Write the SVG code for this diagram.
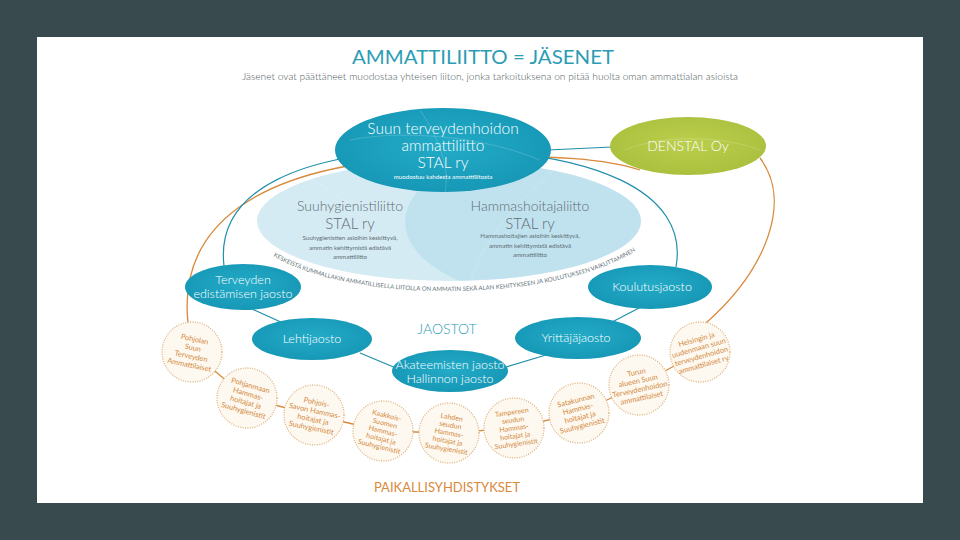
<svg xmlns="http://www.w3.org/2000/svg" width="960" height="540" viewBox="0 0 960 540">
<defs>
<radialGradient id="teal" cx="50%" cy="45%" r="60%">
<stop offset="0" stop-color="#23abc7"/>
<stop offset="1" stop-color="#1596b4"/>
</radialGradient>
<radialGradient id="green" cx="50%" cy="45%" r="60%">
<stop offset="0" stop-color="#bccf4e"/>
<stop offset="1" stop-color="#a9bf3c"/>
</radialGradient>
<clipPath id="bigClip"><ellipse cx="449" cy="221" rx="192" ry="60"/></clipPath>
<path id="arcText" d="M 257,243 C 320,308 580,308 652,238"/>
<style>
.f{font-family:Lato,"Open Sans","Liberation Sans",sans-serif;font-weight:300}
.r{font-weight:400}
.wt{fill:#ffffff;text-anchor:middle}
.gt{fill:#5e6d74;text-anchor:middle}
.ct{fill:#d4883c;font-size:7.4px;text-anchor:middle;font-weight:400}
.ct5{fill:#d4883c;font-size:7px;text-anchor:middle;font-weight:400}
.circ{fill:#fdf9f0;stroke:#dfb27e;stroke-width:1.3;stroke-dasharray:1 1.4}
.tl{fill:none;stroke:#1f8fab;stroke-width:1.2}
.ol{fill:none;stroke:#d9893a;stroke-width:1.3}
.dec{fill:none;stroke:#ffffff;stroke-opacity:0.22;stroke-width:0.8}
</style>
</defs>
<rect width="960" height="540" fill="#394a4f"/>
<rect x="37" y="37" width="886" height="466" fill="#ffffff"/>

<text class="f r" x="483" y="64" font-size="20" fill="#2c9cb5" text-anchor="middle" textLength="262" lengthAdjust="spacingAndGlyphs">AMMATTILIITTO = JÄSENET</text>
<text class="f" x="490" y="80" font-size="9.5" fill="#4f5a5e" text-anchor="middle" textLength="496" lengthAdjust="spacingAndGlyphs">Jäsenet ovat päättäneet muodostaa yhteisen liiton, jonka tarkoituksena on pitää huolta oman ammattialan asioista</text>

<g id="connectors">
<path class="ol" d="M 188,323 C 178,230 250,162 443,157 C 560,154 610,160 640,170"/>
<path class="ol" d="M 760,158 C 792,200 768,268 706,323"/>
<path class="tl" d="M 224,266 C 215,190 300,151 443,150 C 590,150 690,190 676,267"/>
<path class="tl" d="M 548,150 L 612,147"/>
<path class="tl" d="M 252,309 L 283,323"/>
<path class="tl" d="M 360,353 L 396,368"/>
<path class="tl" d="M 506,367 L 546,355"/>
<path class="tl" d="M 614,321 L 641,307"/>
<path class="ol" d="M 192,352 L 247,398 L 314,415 L 383,431 L 449,433 L 514,428 L 579,413 L 639,385 L 700,352"/>
</g>

<g id="liitot">
<ellipse cx="449" cy="221" rx="192" ry="60" fill="#d5ebf4"/>
<ellipse cx="562" cy="222" rx="157" ry="78" fill="#c0e2ef" clip-path="url(#bigClip)"/>
<path class="dec" d="M 300,175 C 360,200 380,240 420,280" clip-path="url(#bigClip)"/>
<path class="dec" d="M 560,165 C 520,200 480,240 470,285" clip-path="url(#bigClip)"/>
<text class="f gt" x="350" y="211" font-size="14">Suuhygienistiliitto</text>
<text class="f gt" x="350" y="229" font-size="15">STAL ry</text>
<text class="f gt r" x="350" y="240" font-size="6.2">Suuhygienistien asioihin keskittyvä,</text>
<text class="f gt r" x="350" y="249.5" font-size="6.2">ammatin kehittymistä edistävä</text>
<text class="f gt r" x="350" y="259" font-size="6.2">ammattiliitto</text>
<text class="f gt" x="530" y="211" font-size="14">Hammashoitajaliitto</text>
<text class="f gt" x="530" y="229" font-size="15">STAL ry</text>
<text class="f gt r" x="530" y="238" font-size="6.2">Hammashoitajien asioihin keskittyvä,</text>
<text class="f gt r" x="530" y="247.5" font-size="6.2">ammatin kehittymistä edistävä</text>
<text class="f gt r" x="530" y="257" font-size="6.2">ammattiliitto</text>
<text class="f r" font-size="6" fill="#66757b"><textPath href="#arcText" startOffset="50%" text-anchor="middle">KESKEISTÄ KUMMALLAKIN AMMATILLISELLA LIITOLLA ON AMMATIN SEKÄ ALAN KEHITYKSEEN JA KOULUTUKSEEN VAIKUTTAMINEN</textPath></text>
</g>

<g id="stal">
<ellipse cx="443" cy="150" rx="108" ry="42" fill="url(#teal)"/>
<path class="dec" d="M 350,140 C 400,130 480,135 540,160"/>
<path class="dec" d="M 420,110 C 440,140 450,170 445,192"/>
<text class="f wt" x="443" y="134" font-size="15.5">Suun terveydenhoidon</text>
<text class="f wt" x="443" y="151" font-size="15.5">ammattiliitto</text>
<text class="f wt" x="443" y="168" font-size="15.5">STAL ry</text>
<text class="f wt r" x="443" y="179" font-size="6.2">muodostuu kahdesta ammattiliitosta</text>
</g>

<g id="denstal">
<ellipse cx="688" cy="146" rx="78" ry="29" fill="url(#green)"/>
<path class="dec" d="M 625,150 C 660,135 720,135 760,150"/>
<text class="f wt" x="688" y="151" font-size="14">DENSTAL Oy</text>
</g>

<g id="terveyden">
<ellipse cx="243" cy="287" rx="58" ry="23" fill="url(#teal)"/>
<text class="f wt" x="243" y="284" font-size="12.5">Terveyden</text>
<text class="f wt" x="243" y="298" font-size="12.5">edistämisen jaosto</text>
</g>
<g id="koulutus">
<ellipse cx="650" cy="287" rx="62" ry="22" fill="url(#teal)"/>
<text class="f wt" x="652" y="291" font-size="12.5">Koulutusjaosto</text>
</g>
<g id="lehti">
<ellipse cx="312" cy="339" rx="60" ry="21" fill="url(#teal)"/>
<text class="f wt" x="312" y="343" font-size="12.5">Lehtijaosto</text>
</g>
<g id="yrittaja">
<ellipse cx="578" cy="338" rx="63" ry="21" fill="url(#teal)"/>
<text class="f wt" x="576" y="342" font-size="12.5">Yrittäjäjaosto</text>
</g>
<g id="akateemisten">
<ellipse cx="450" cy="371" rx="58" ry="21" fill="url(#teal)"/>
<text class="f wt" x="450" y="369" font-size="12.5">Akateemisten jaosto</text>
<text class="f wt" x="450" y="383" font-size="12.5">Hallinnon jaosto</text>
</g>
<text class="f" x="447" y="334" font-size="14" fill="#2c9cb5" text-anchor="middle">JAOSTOT</text>

<g id="c1" transform="translate(192,352)">
<circle class="circ" r="30"/>
<g transform="rotate(12)"><text class="f ct" y="-10.5">Pohjolan</text><text class="f ct" y="-1.8">Suun</text><text class="f ct" y="6.9">Terveyden</text><text class="f ct" y="15.6">Ammattilaiset</text></g>
</g>
<g id="c2" transform="translate(247,398)">
<circle class="circ" r="30"/>
<g transform="rotate(16)"><text class="f ct" y="-10.5">Pohjanmaan</text><text class="f ct" y="-1.8">Hammas-</text><text class="f ct" y="6.9">hoitajat ja</text><text class="f ct" y="15.6">Suuhygienistit</text></g>
</g>
<g id="c3" transform="translate(314,415)">
<circle class="circ" r="30"/>
<g transform="rotate(12)"><text class="f ct" y="-10.5">Pohjois-</text><text class="f ct" y="-1.8">Savon Hammas-</text><text class="f ct" y="6.9">hoitajat ja</text><text class="f ct" y="15.6">Suuhygienistit</text></g>
</g>
<g id="c4" transform="translate(383,431)">
<circle class="circ" r="30"/>
<g transform="rotate(14)"><text class="f ct5" y="-13.6">Kaakkois-</text><text class="f ct5" y="-5.6">Suomen</text><text class="f ct5" y="2.4">Hammas-</text><text class="f ct5" y="10.4">hoitajat ja</text><text class="f ct5" y="18.4">Suuhygienistit</text></g>
</g>
<g id="c5" transform="translate(449,433)">
<circle class="circ" r="30"/>
<g transform="rotate(10)"><text class="f ct5" y="-13.6">Lahden</text><text class="f ct5" y="-5.6">seudun</text><text class="f ct5" y="2.4">Hammas-</text><text class="f ct5" y="10.4">hoitajat ja</text><text class="f ct5" y="18.4">Suuhygienistit</text></g>
</g>
<g id="c6" transform="translate(514,428)">
<circle class="circ" r="30"/>
<g transform="rotate(-8)"><text class="f ct5" y="-13.6">Tampereen</text><text class="f ct5" y="-5.6">seudun</text><text class="f ct5" y="2.4">Hammas-</text><text class="f ct5" y="10.4">hoitajat ja</text><text class="f ct5" y="18.4">Suuhygienistit</text></g>
</g>
<g id="c7" transform="translate(579,413)">
<circle class="circ" r="30"/>
<g transform="rotate(-14)"><text class="f ct" y="-10.5">Satakunnan</text><text class="f ct" y="-1.8">Hammas-</text><text class="f ct" y="6.9">hoitajat ja</text><text class="f ct" y="15.6">Suuhygienistit</text></g>
</g>
<g id="c8" transform="translate(639,385)">
<circle class="circ" r="30"/>
<g transform="rotate(-12)"><text class="f ct" y="-10.5">Turun</text><text class="f ct" y="-1.8">alueen Suun</text><text class="f ct" y="6.9">Terveydenhoidon</text><text class="f ct" y="15.6">ammattilaiset</text></g>
</g>
<g id="c9" transform="translate(700,352)">
<circle class="circ" r="30"/>
<g transform="rotate(-16)"><text class="f ct" y="-10.5">Helsingin ja</text><text class="f ct" y="-1.8">uudenmaan suun</text><text class="f ct" y="6.9">terveydenhoidon</text><text class="f ct" y="15.6">ammattilaiset ry</text></g>
</g>

<text class="f r" x="447" y="492" font-size="13" fill="#d9893a" text-anchor="middle">PAIKALLISYHDISTYKSET</text>
</svg>
